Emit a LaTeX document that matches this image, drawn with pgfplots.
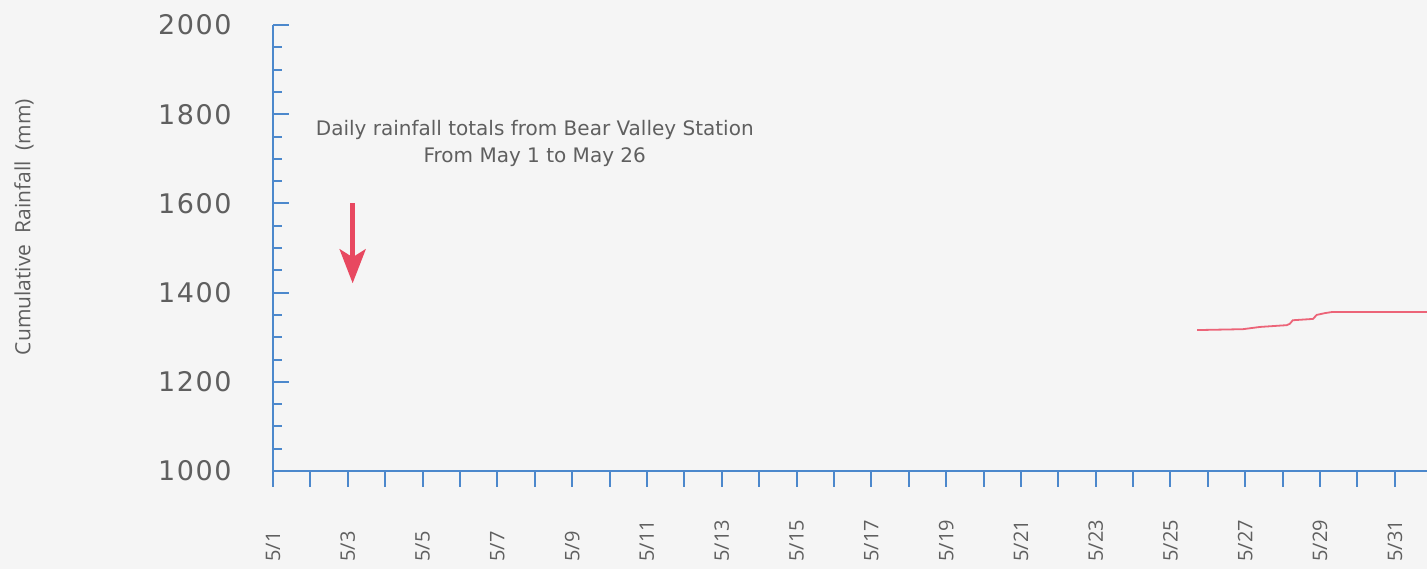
\documentclass[border=0pt]{standalone}
\usepackage{fontspec}
\setmainfont{DejaVu Sans}
\newfontfamily\tickfont[LetterSpace=6]{DejaVu Sans}
\newfontfamily\labfont{Open Sans}
\usepackage{pgfplots}
\pgfplotsset{compat=1.18}
\usetikzlibrary{arrows.meta}
\definecolor{axblue}{RGB}{76,136,204}
\definecolor{linered}{RGB}{236,100,120}
\definecolor{arrred}{RGB}{232,72,96}
\definecolor{txtgray}{RGB}{95,95,95}
\definecolor{bg}{RGB}{245,245,245}
\begin{document}
\begin{tikzpicture}
\fill[bg] (-136.5pt,-49pt) rectangle (577pt,235.5pt);
\useasboundingbox (-136.5pt,-49pt) rectangle (577pt,235.5pt);
\begin{axis}[
  at={(0,0)}, anchor=south west, scale only axis,
  width=577pt, height=223pt,
  xmin=0, xmax=30.86, ymin=1000, ymax=2000,
  axis x line=bottom, axis y line=left,
  axis line style={axblue, line width=1.1pt, -},
  tick align=inside,
  major tick length=7.75pt, minor tick length=4.5pt,
  tick style={axblue, line width=1pt},
  xtick style={yshift=-7.75pt},
  xtick={0,...,30},
  xticklabels={5/1,,5/3,,5/5,,5/7,,5/9,,5/11,,5/13,,5/15,,5/17,,5/19,,5/21,,5/23,,5/25,,5/27,,5/29,,5/31},
  xticklabel style={rotate=90, anchor=west, inner sep=0pt, xshift=1.5pt, font=\labfont\fontsize{10}{12}\selectfont, text=txtgray},
  xticklabel shift=47pt,
  ytick={1000,1200,...,2000},
  minor y tick num=3,
  yticklabel style={anchor=east, inner sep=0pt, font=\tickfont\fontsize{13.5}{15}\selectfont, text=txtgray},
  yticklabel shift=20.5pt,
  /pgf/number format/1000 sep={},
  /pgf/number format/assume math mode=true,
  ylabel={Cumulative\ \ Rainfall\ \ (mm)},
  ylabel style={at={(axis description cs:-0.2158,0.547)}, anchor=center, font=\labfont\fontsize{10.5}{12}\selectfont, text=txtgray},
  clip=false,
]
\addplot[linered, line width=0.9pt] coordinates {
  (24.71,1316) (25.94,1318) (26.39,1323) (27.11,1327) (27.19,1330)
  (27.27,1338) (27.81,1341) (27.91,1350) (28.13,1354) (28.32,1356.5) (30.86,1356.5)
};
\addplot[arrred, line width=2.2pt, -{Stealth[length=17pt,width=13pt,inset=4pt]}] coordinates {(2.13,1600) (2.13,1421)};
\node[align=center, font=\fontsize{10}{13.5}\selectfont, text=txtgray] at (axis cs:7.0,1735)
  {Daily rainfall totals from Bear Valley Station\\From May 1 to May 26};
\end{axis}
\end{tikzpicture}
\end{document}
